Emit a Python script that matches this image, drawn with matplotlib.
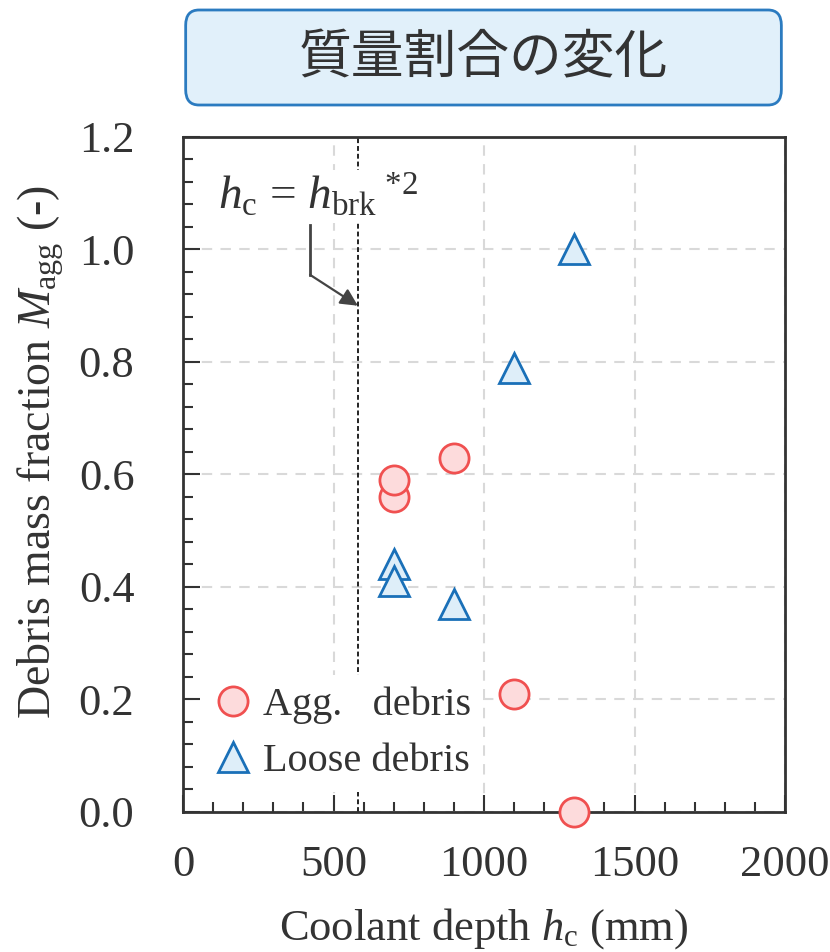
import matplotlib
matplotlib.use("Agg")
import matplotlib.pyplot as plt
from matplotlib.patches import FancyBboxPatch
from matplotlib.ticker import MultipleLocator, FormatStrFormatter

plt.rcParams['font.family'] = ['Liberation Serif', 'DejaVu Serif']
plt.rcParams['mathtext.fontset'] = 'custom'
plt.rcParams['mathtext.rm'] = 'Liberation Serif'
plt.rcParams['mathtext.it'] = 'Liberation Serif:italic'

# coolant depth (mm) and aggregated / loose debris mass fraction (-)
agg_depth = [700, 700, 900, 1100, 1300]
agg_frac = [0.56, 0.59, 0.63, 0.21, 0.0]
loose_depth = [700, 700, 900, 1100, 1300]
loose_frac = [0.44, 0.41, 0.37, 0.79, 1.0]

h_brk = 581  # breakup depth marker
title = '質量割合の変化'

text_col = '#333333'
fs = 32

fig = plt.figure(figsize=(8.3, 9.52), dpi=100)
ax = fig.add_axes([0.2205, 0.1471, 0.7253, 0.709])

ax.grid(True, color='#d9d9d9', linestyle=(0, (5, 4)), linewidth=1.5, zorder=0)
ax.set_axisbelow(True)

ax.axvline(h_brk, color='#222222', linestyle=(0, (2.5, 1.5)), linewidth=1.4, zorder=1)

ax.plot(agg_depth, agg_frac, 'o', ms=21, mfc='#fddbdc', mec='#f05050',
        mew=2, clip_on=False, zorder=3, label='Agg.   debris')
ax.plot(loose_depth, loose_frac, '^', ms=21, mfc='#deeef9', mec='#1a70b8',
        mew=2, clip_on=False, zorder=3, label='Loose debris')

ax.set_xlim(0, 2000)
ax.set_ylim(0, 1.2)
ax.xaxis.set_major_locator(MultipleLocator(500))
ax.xaxis.set_minor_locator(MultipleLocator(100))
ax.yaxis.set_major_locator(MultipleLocator(0.2))
ax.yaxis.set_minor_locator(MultipleLocator(0.04))
ax.yaxis.set_major_formatter(FormatStrFormatter('%.1f'))

ax.tick_params(which='both', direction='in', color=text_col, width=1.5,
               labelsize=fs, labelcolor=text_col)
ax.tick_params(which='major', length=12)
ax.tick_params(which='minor', length=7)
ax.tick_params(axis='y', which='major', pad=35)
ax.tick_params(axis='x', which='major', pad=24)
for s in ax.spines.values():
    s.set_color(text_col)
    s.set_linewidth(2)

ax.set_xlabel(r'Coolant depth $h_\mathrm{c}$ (mm)', fontsize=fs, color=text_col, labelpad=15)
ax.set_ylabel(r'Debris mass fraction $M_\mathrm{agg}$ (-)', fontsize=33, color=text_col)
ax.yaxis.set_label_coords(-0.195, 0.533)

# breakup depth label with bent arrow
ax.text(450, 1.095, r'$h_\mathrm{c}$ = $h_\mathrm{brk}$$^{\ {*}2}$', fontsize=34, color=text_col,
        ha='center', va='center', zorder=4,
        bbox=dict(facecolor='white', edgecolor='none', pad=2))
ax.plot([422, 422], [1.044, 0.955], color='#444444', lw=2, zorder=4)
ax.annotate('', xy=(h_brk, 0.9), xytext=(422, 0.955),
            arrowprops=dict(arrowstyle='-|>', color='#444444', lw=1.6,
                            mutation_scale=26, shrinkA=0, shrinkB=0), zorder=4)

leg = ax.legend(loc='lower left', bbox_to_anchor=(-0.005, 0.0), fontsize=fs - 3,
                frameon=True, facecolor='white', edgecolor='none', framealpha=1,
                handletextpad=0.2, labelspacing=0.45, borderpad=0.3, handlelength=1.05,
                borderaxespad=0.5)
for t in leg.get_texts():
    t.set_color(text_col)

# title box
box = FancyBboxPatch((0.2217 + 0.016, 0.8897 + 0.014), 0.7217 - 0.032, 0.0998 - 0.028,
                     boxstyle='round,pad=0.014,rounding_size=0.016',
                     transform=fig.transFigure, facecolor='#e1f0fa',
                     edgecolor='#2b7bc0', linewidth=2)
fig.patches.append(box)
fig.text(0.2217 + 0.7217 / 2, 0.8897 + 0.0998 / 2, title, fontsize=38, color=text_col,
         ha='center', va='center', family=['Noto Sans CJK JP', 'DejaVu Sans'])

fig.savefig('out.png', dpi=100)
